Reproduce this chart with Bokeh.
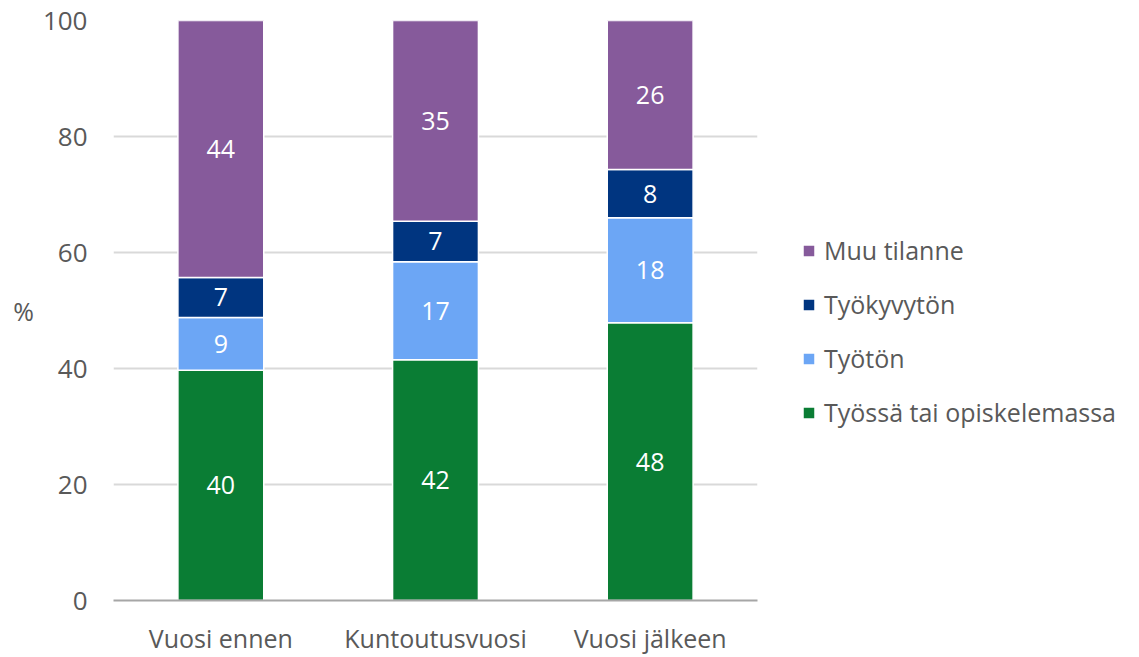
from bokeh.plotting import figure
from bokeh.models import ColumnDataSource, Legend, LegendItem, LabelSet, FixedTicker
from bokeh.core.properties import value
from bokeh.embed import file_html
from bokeh.resources import INLINE

categories = ["Vuosi ennen", "Kuntoutusvuosi", "Vuosi jälkeen"]
series = ["Työssä tai opiskelemassa", "Työtön", "Työkyvytön", "Muu tilanne"]
tyossa = [39.7, 41.5, 47.9]
tyoton = [9.1, 16.9, 18.1]
tyokyvyton = [6.9, 7.0, 8.3]
muu = [44.3, 34.6, 25.7]
colors = ["#0a7d34", "#6ca6f5", "#003580", "#865a9b"]
y_ticks = [0, 20, 40, 60, 80, 100]

FONT = "Open Sans"
GREY = "#595959"

data = {"cat": categories}
keys = ["s0", "s1", "s2", "s3"]
for k, vals in zip(keys, [tyossa, tyoton, tyokyvyton, muu]):
    data[k] = vals
src = ColumnDataSource(data)

p = figure(x_range=categories, y_range=(0, 100), frame_width=644, frame_height=580,
           output_backend="svg", toolbar_location=None,
           min_border_left=113, min_border_right=10, min_border_top=20, min_border_bottom=48)
p.x_range.range_padding = 0

renderers = p.vbar_stack(keys, x="cat", width=0.4, source=src, color=colors,
                         line_color="white", line_width=1.5)

bottoms = [0, 0, 0]
for k, vals in zip(keys, [tyossa, tyoton, tyokyvyton, muu]):
    mids = [b + v / 2 for b, v in zip(bottoms, vals)]
    labels = [str(int(v + 0.5)) for v in vals]
    ls = ColumnDataSource(dict(x=categories, y=mids, t=labels))
    p.add_layout(LabelSet(x="x", y="y", text="t", source=ls, text_color="white",
                          text_font=value(FONT), text_font_size="25px",
                          text_align="center", text_baseline="middle"))
    bottoms = [b + v for b, v in zip(bottoms, vals)]

p.outline_line_color = None
p.xgrid.grid_line_color = None
p.ygrid.grid_line_color = "#d9d9d9"
p.ygrid.grid_line_width = 2
p.yaxis.ticker = FixedTicker(ticks=y_ticks)
p.yaxis.axis_line_color = None
p.yaxis.major_tick_line_color = None
p.yaxis.minor_tick_line_color = None
p.yaxis.major_label_text_font = FONT
p.yaxis.major_label_text_font_size = "26px"
p.yaxis.major_label_text_color = GREY
p.yaxis.major_label_standoff = 20
p.yaxis.axis_label = "%"
p.yaxis.axis_label_orientation = "horizontal"
p.yaxis.axis_label_text_font = FONT
p.yaxis.axis_label_text_font_size = "25px"
p.yaxis.axis_label_text_font_style = "normal"
p.yaxis.axis_label_text_color = GREY
p.yaxis.axis_label_standoff = 6

p.xaxis.axis_line_color = "#a6a6a6"
p.xaxis.axis_line_width = 2
p.xaxis.major_tick_line_color = None
p.xaxis.minor_tick_line_color = None
p.xaxis.major_label_text_font = FONT
p.xaxis.major_label_text_font_size = "25px"
p.xaxis.major_label_text_color = GREY
p.xaxis.major_label_standoff = 14

items = [LegendItem(label=series[i], renderers=[renderers[i]]) for i in [3, 2, 1, 0]]
legend = Legend(items=items, location=(44, 171), orientation="vertical",
                glyph_width=15, glyph_height=15, label_standoff=8,
                label_text_font=FONT, label_text_font_size="25px", label_text_color=GREY,
                spacing=20, padding=0, margin=0, border_line_color=None,
                background_fill_alpha=0)
p.add_layout(legend, "right")

open("out.html", "w").write(file_html(p, INLINE))
